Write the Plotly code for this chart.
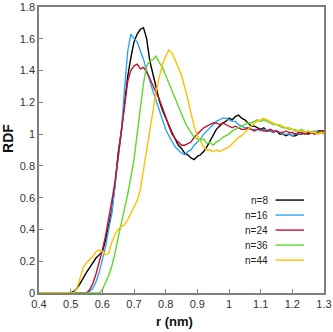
import plotly.graph_objects as go

# radial grid (nm), step 0.01 from 0.40 to 1.30
r = [round(0.40 + 0.01 * i, 2) for i in range(91)]

g_n8 = [0]*11 + [
    0.01, 0.03, 0.06, 0.10, 0.13, 0.16, 0.19, 0.22, 0.24, 0.26,   # 0.51-0.60
    0.33, 0.42, 0.52, 0.68, 0.88, 1.02, 1.18, 1.36, 1.48, 1.58,   # 0.61-0.70
    1.63, 1.66, 1.67, 1.60, 1.46, 1.37, 1.29, 1.21, 1.15, 1.10,   # 0.71-0.80
    1.05, 1.01, 0.97, 0.93, 0.91, 0.88, 0.87, 0.85, 0.84, 0.86,   # 0.81-0.90
    0.87, 0.89, 0.92, 0.96, 1.00, 1.03, 1.05, 1.07, 1.08, 1.10,   # 0.91-1.00
    1.09, 1.11, 1.12, 1.10, 1.09, 1.07, 1.05, 1.05, 1.04, 1.03,   # 1.01-1.10
    1.04, 1.02, 1.02, 1.01, 1.02, 1.00, 1.00, 0.99, 1.00, 0.99,   # 1.11-1.20
    0.99, 1.00, 1.00, 1.01, 1.00, 1.01, 1.01, 1.02, 1.02, 1.02]   # 1.21-1.30

g_n16 = [0]*16 + [
    0.01, 0.03, 0.07, 0.13, 0.21,                                 # 0.56-0.60
    0.29, 0.40, 0.50, 0.68, 0.86, 1.02, 1.28, 1.52, 1.63, 1.60,   # 0.61-0.70
    1.58, 1.53, 1.47, 1.40, 1.33, 1.27, 1.21, 1.15, 1.08, 1.03,   # 0.71-0.80
    0.99, 0.95, 0.92, 0.90, 0.88, 0.87, 0.89, 0.90, 0.93, 0.95,   # 0.81-0.90
    0.97, 1.00, 1.02, 1.04, 1.06, 1.08, 1.09, 1.10, 1.10, 1.09,   # 0.91-1.00
    1.08, 1.08, 1.06, 1.05, 1.04, 1.04, 1.03, 1.03, 1.03, 1.02,   # 1.01-1.10
    1.03, 1.02, 1.02, 1.01, 1.02, 1.01, 1.00, 1.00, 1.00, 0.99,   # 1.11-1.20
    1.00, 1.00, 1.01, 1.00, 1.01, 1.01, 1.01, 1.02, 1.01, 1.01]   # 1.21-1.30

g_n24 = [0]*16 + [
    0.02, 0.06, 0.12, 0.19, 0.27,                                 # 0.56-0.60
    0.36, 0.46, 0.58, 0.70, 0.85, 1.00, 1.15, 1.33, 1.40, 1.43,   # 0.61-0.70
    1.44, 1.41, 1.42, 1.39, 1.35, 1.30, 1.26, 1.22, 1.17, 1.11,   # 0.71-0.80
    1.05, 1.00, 0.97, 0.95, 0.93, 0.93, 0.94, 0.95, 0.98, 1.00,   # 0.81-0.90
    1.02, 1.04, 1.05, 1.06, 1.07, 1.07, 1.06, 1.07, 1.06, 1.05,   # 0.91-1.00
    1.04, 1.05, 1.04, 1.03, 1.03, 1.04, 1.03, 1.02, 1.03, 1.03,   # 1.01-1.10
    1.02, 1.02, 1.03, 1.02, 1.02, 1.01, 1.01, 1.02, 1.01, 1.01,   # 1.11-1.20
    1.00, 1.01, 1.01, 1.00, 1.01, 1.01, 1.00, 1.01, 1.02, 1.01]   # 1.21-1.30

g_n36 = [0]*20 + [
    0.02,                                                         # 0.60
    0.06, 0.11, 0.17, 0.25, 0.35, 0.45, 0.53, 0.62, 0.72, 0.84,   # 0.61-0.70
    1.00, 1.17, 1.32, 1.43, 1.46, 1.47, 1.49, 1.45, 1.42, 1.37,   # 0.71-0.80
    1.32, 1.27, 1.22, 1.17, 1.13, 1.08, 1.04, 1.01, 0.98, 0.97,   # 0.81-0.90
    0.96, 0.97, 0.94, 0.95, 0.93, 0.95, 0.96, 0.98, 0.99, 1.00,   # 0.91-1.00
    1.02, 1.03, 1.04, 1.05, 1.06, 1.07, 1.07, 1.08, 1.09, 1.08,   # 1.01-1.10
    1.09, 1.08, 1.07, 1.06, 1.06, 1.05, 1.04, 1.04, 1.03, 1.03,   # 1.11-1.20
    1.02, 1.02, 1.03, 1.01, 1.02, 1.01, 1.02, 1.00, 1.01, 1.00]   # 1.21-1.30

g_n44 = [0]*12 + [
    0.03, 0.10, 0.16, 0.19, 0.21, 0.23, 0.26, 0.27, 0.26,         # 0.52-0.60
    0.24, 0.25, 0.32, 0.37, 0.40, 0.42, 0.43, 0.46, 0.50, 0.54,   # 0.61-0.70
    0.58, 0.65, 0.78, 0.90, 1.02, 1.14, 1.27, 1.36, 1.44, 1.49,   # 0.71-0.80
    1.53, 1.51, 1.47, 1.42, 1.37, 1.30, 1.22, 1.13, 1.05, 0.99,   # 0.81-0.90
    0.95, 0.92, 0.90, 0.90, 0.89, 0.90, 0.89, 0.90, 0.91, 0.92,   # 0.91-1.00
    0.94, 0.96, 0.98, 0.99, 1.01, 1.03, 1.05, 1.07, 1.08, 1.09,   # 1.01-1.10
    1.10, 1.09, 1.08, 1.07, 1.06, 1.06, 1.05, 1.04, 1.04, 1.03,   # 1.11-1.20
    1.03, 1.02, 1.02, 1.01, 1.02, 1.01, 1.01, 1.00, 1.01, 1.01]   # 1.21-1.30

labels = ["n=8", "n=16", "n=24", "n=36", "n=44"]
colors = ["#000000", "#2ea6f2", "#c8102e", "#5fd92b", "#fcc000"]
series = [g_n8, g_n16, g_n24, g_n36, g_n44]

x_ticks = [0.4, 0.5, 0.6, 0.7, 0.8, 0.9, 1.0, 1.1, 1.2, 1.3]
x_ticktext = ["0.4", "0.5", "0.6", "0.7", "0.8", "0.9", "1", "1.1", "1.2", "1.3"]
y_ticks = [0, 0.2, 0.4, 0.6, 0.8, 1.0, 1.2, 1.4, 1.6, 1.8]
y_ticktext = ["0", "0.2", "0.4", "0.6", "0.8", "1", "1.2", "1.4", "1.6", "1.8"]

fig = go.Figure()
for lab, col, g in zip(labels, colors, series):
    fig.add_trace(go.Scatter(x=r, y=g, mode="lines", name=lab,
                             line=dict(color=col, width=1.4), showlegend=False))

# legend drawn as label text followed by a short line sample
legend_top = 0.325
legend_step = 0.0525
for i, (lab, col) in enumerate(zip(labels, colors)):
    yy = legend_top - i * legend_step
    fig.add_annotation(x=0.81, y=yy, xref="paper", yref="paper", text=lab,
                       showarrow=False, xanchor="right", yanchor="middle",
                       font=dict(family="Liberation Sans", size=10, color="#222"))
    fig.add_shape(type="line", xref="paper", yref="paper",
                  x0=0.83, x1=0.93, y0=yy, y1=yy, line=dict(color=col, width=1.4))

# axis titles
fig.add_annotation(x=0.477, y=-0.10, xref="paper", yref="paper",
                   text="<b>r (nm)</b>", showarrow=False,
                   xanchor="center", yanchor="middle",
                   font=dict(family="Liberation Sans", size=13, color="#111"))
fig.add_annotation(x=-0.109, y=0.542, xref="paper", yref="paper",
                   text="<b>RDF</b>", showarrow=False, textangle=-90,
                   xanchor="center", yanchor="middle",
                   font=dict(family="Liberation Sans", size=14, color="#111"))

axis_common = dict(showgrid=False, zeroline=False, showline=True, mirror=True,
                   automargin=False,
                   linecolor="#7f7f7f", linewidth=1.5, ticks="inside", ticklen=4,
                   tickcolor="#7f7f7f", tickwidth=1,
                   tickfont=dict(family="Liberation Sans", size=11, color="#333"))

fig.update_layout(
    width=333, height=332,
    margin=dict(l=39, r=9, t=7, b=39),
    paper_bgcolor="white", plot_bgcolor="white",
    xaxis=dict(range=[0.4, 1.3], tickvals=x_ticks, ticktext=x_ticktext,
               **axis_common),
    yaxis=dict(range=[0, 1.8], tickvals=y_ticks, ticktext=y_ticktext,
               **axis_common),
)

fig.write_html("out.html")
